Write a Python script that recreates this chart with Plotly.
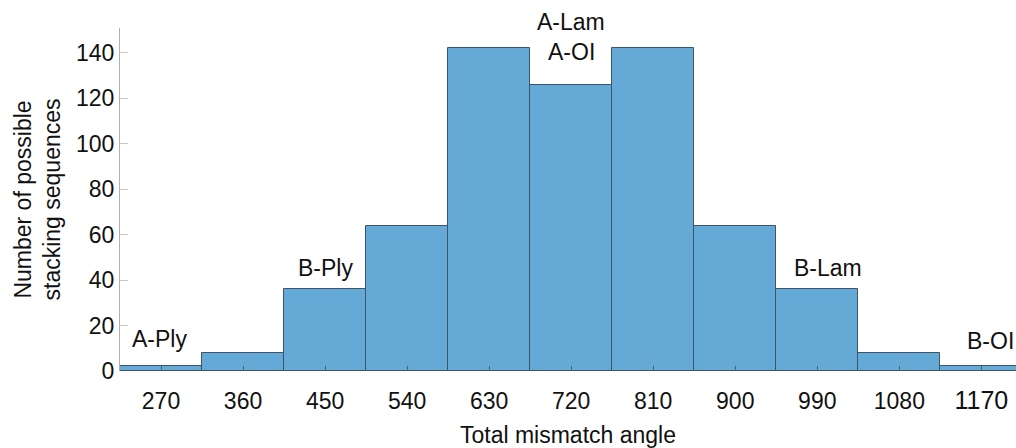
import plotly.graph_objects as go

angles = [270, 360, 450, 540, 630, 720, 810, 900, 990, 1080, 1170]
counts = [2, 8, 36, 64, 142, 126, 142, 64, 36, 8, 2]
tick_labels = ["270", "360", "450", "540", "630", "720", "810", "900", "990", "1080",
               "<span style='font-size:25px'>1170</span>"]
y_ticks = [0, 20, 40, 60, 80, 100, 120, 140]

label_text = ["A-Ply", "B-Ply", "A-Lam", "A-OI", "B-Lam", "B-OI"]
label_x = [268, 450, 720, 720, 1002, 1152]
label_y = [14, 45.5, 140.5, 140.5, 45.5, 13]
label_shift = [0, 0, 30, 0, 0, 0]
label_anchor = ["center", "center", "center", "center", "center", "left"]

font = "Liberation Sans, Arial, sans-serif"
FS = 23

fig = go.Figure(go.Bar(
    x=angles, y=counts, width=90,
    marker=dict(color="#65a9d7", line=dict(color="#3d5568", width=1)),
))

for t, x, y, s, a in zip(label_text, label_x, label_y, label_shift, label_anchor):
    fig.add_annotation(x=x, y=y, xref="x", yref="y", text=t, showarrow=False,
                       xanchor=a, yanchor="middle", yshift=s,
                       font=dict(family=font, size=FS, color="#111"))

fig.update_layout(
    width=1016, height=448,
    margin=dict(l=120, r=0, t=28, b=77),
    plot_bgcolor="white", paper_bgcolor="white",
    showlegend=False, bargap=0,
    font=dict(family=font, size=FS, color="#111"),
)
fig.update_xaxes(
    range=[225, 1208], tickvals=angles, ticktext=tick_labels,
    ticks="inside", ticklen=5, tickcolor="#4a6070", tickwidth=1,
    ticklabelstandoff=14,
    showline=False, showgrid=False, zeroline=False,
    title=dict(text="Total mismatch angle", font=dict(size=FS), standoff=16),
    tickfont=dict(size=FS),
)
fig.update_yaxes(
    range=[0, 151], tickvals=y_ticks,
    ticks="inside", ticklen=8, tickcolor="#c8c8c8", tickwidth=1,
    showline=True, linecolor="#b0b0b0", linewidth=1,
    showgrid=False, zeroline=False,
    title=dict(text="Number of possible<br>stacking sequences", font=dict(size=FS), standoff=8),
    tickfont=dict(size=FS),
)

fig.write_html("out.html")
